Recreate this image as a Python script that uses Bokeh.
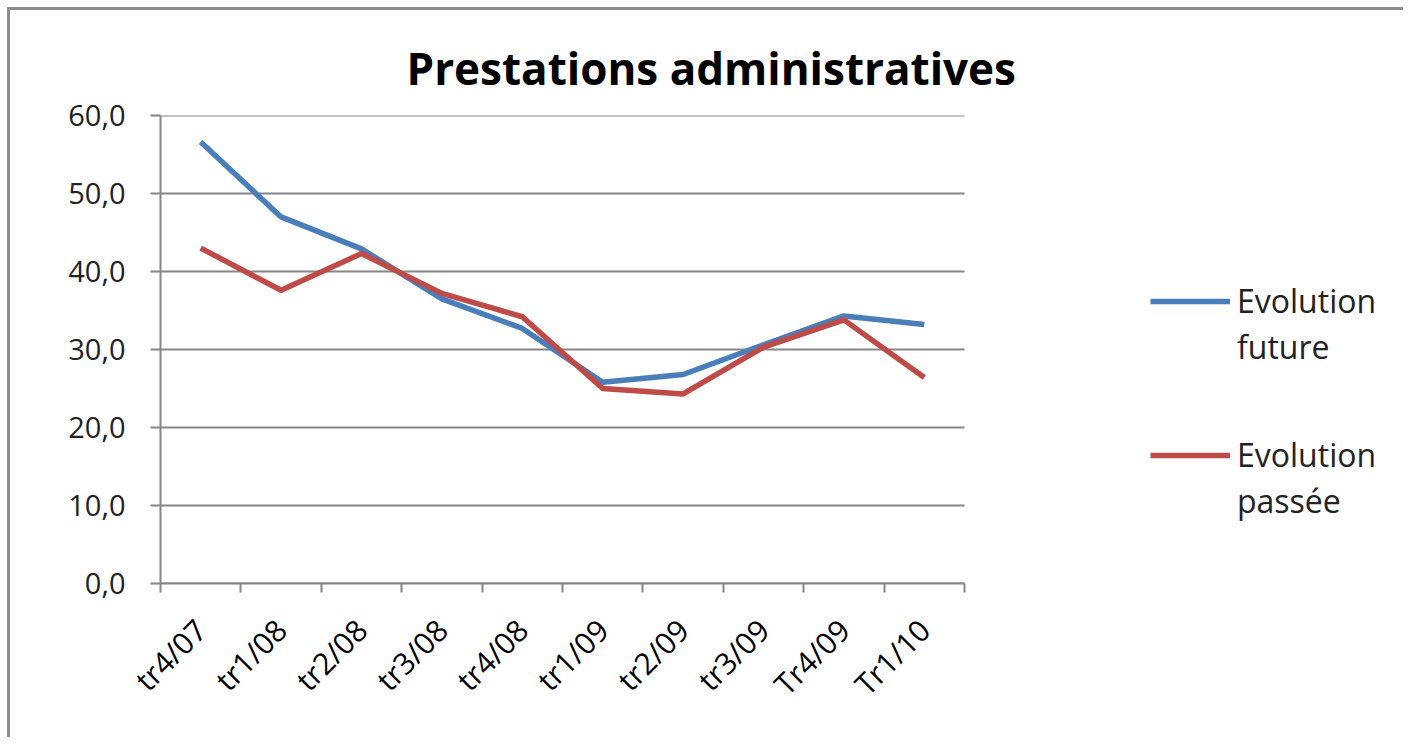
import math
from bokeh.plotting import figure
from bokeh.models import (Range1d, FixedTicker, CustomJSTickFormatter, Legend, LegendItem, Title)
from bokeh.embed import file_html
from bokeh.resources import INLINE

categories = ["tr4/07", "tr1/08", "tr2/08", "tr3/08", "tr4/08",
              "tr1/09", "tr2/09", "tr3/09", "Tr4/09", "Tr1/10"]
evolution_future = [56.6, 47.0, 42.9, 36.5, 32.7, 25.8, 26.8, 30.6, 34.3, 33.2]
evolution_passee = [43.0, 37.6, 42.3, 37.2, 34.2, 25.0, 24.3, 30.3, 33.8, 26.4]
y_ticks = [0, 10, 20, 30, 40, 50, 60]
series_names = [("Evolution", "future"), ("Evolution", "passée")]

n = len(categories)
xs = [i + 0.5 for i in range(n)]

FONT = "Open Sans"
GRAY = "#868686"

W, H = 1396, 730
LEFT, TOP, BOTTOM = 150, 105, 157
PLOT_W = 804                     # pixel width of the category area
FRAME_W = W - LEFT
x_end = n * FRAME_W / PLOT_W      # extra room on the right holds the legend

p = figure(width=W, height=H, output_backend="svg", toolbar_location=None,
           x_range=Range1d(0, x_end), y_range=Range1d(0, 60),
           min_border_left=LEFT, min_border_right=0, min_border_top=TOP,
           min_border_bottom=BOTTOM)
p.styles = {"border-left": "3px solid #8c8c8c", "border-top": "3px solid #8c8c8c",
            "margin-left": "7px", "margin-top": "7px"}
p.outline_line_color = None
p.background_fill_color = "white"
p.border_fill_color = "white"

title = Title(text="Prestations administratives", align="left", offset=246,
              text_font=FONT, text_font_size="44px", text_font_style="bold",
              text_color="black", standoff=36)
p.add_layout(title, "above")

# horizontal gridlines limited to the category area
p.segment(x0=[0] * len(y_ticks), x1=[n] * len(y_ticks), y0=y_ticks, y1=y_ticks,
          line_color=GRAY, line_width=2)

r1 = p.line(xs, evolution_future, line_color="#4A7EBB", line_width=5.5, line_join="round")
r2 = p.line(xs, evolution_passee, line_color="#BE4B48", line_width=5.5, line_join="round")
blank = p.line([], [], line_alpha=0)

# x axis
p.xaxis.bounds = (0, n)
p.xaxis.ticker = FixedTicker(ticks=xs, minor_ticks=list(range(n + 1)))
p.xaxis.formatter = CustomJSTickFormatter(args=dict(labels=categories),
                                          code="return labels[Math.floor(tick)];")
p.xaxis.major_tick_line_color = None
p.xaxis.minor_tick_line_color = GRAY
p.xaxis.minor_tick_line_width = 2
p.xaxis.minor_tick_out = 9
p.xaxis.minor_tick_in = 0
p.xaxis.axis_line_color = GRAY
p.xaxis.axis_line_width = 2
p.xaxis.major_label_orientation = math.pi / 4
p.xaxis.major_label_text_font = FONT
p.xaxis.major_label_text_font_size = "30px"
p.xaxis.major_label_text_color = "black"
p.xaxis.major_label_standoff = 32

# y axis
p.yaxis.ticker = FixedTicker(ticks=y_ticks, minor_ticks=[])
p.yaxis.formatter = CustomJSTickFormatter(code="return tick.toFixed(1).replace('.', ',');")
p.yaxis.major_tick_line_color = GRAY
p.yaxis.major_tick_line_width = 2
p.yaxis.major_tick_out = 10
p.yaxis.major_tick_in = 0
p.yaxis.axis_line_color = GRAY
p.yaxis.axis_line_width = 2
p.yaxis.major_label_text_font = FONT
p.yaxis.major_label_text_font_size = "29px"
p.yaxis.major_label_text_color = "#222222"
p.yaxis.major_label_standoff = 25

p.xgrid.visible = False
p.ygrid.visible = False

items = [
    LegendItem(label=series_names[0][0], renderers=[r1]),
    LegendItem(label=series_names[0][1], renderers=[blank]),
    LegendItem(label=" ", renderers=[blank]),
    LegendItem(label="  ", renderers=[blank]),
    LegendItem(label=series_names[1][0], renderers=[r2]),
    LegendItem(label=series_names[1][1], renderers=[blank]),
]
legend = Legend(items=items, location=(990, 61), orientation="vertical",
                label_text_font=FONT, label_text_font_size="32px",
                label_text_color="#222222", label_height=28,
                glyph_width=80, glyph_height=28, spacing=3, padding=0, margin=0,
                label_standoff=7,
                border_line_color=None, background_fill_alpha=0)
p.add_layout(legend, "center")

open("out.html", "w").write(file_html(p, INLINE))
